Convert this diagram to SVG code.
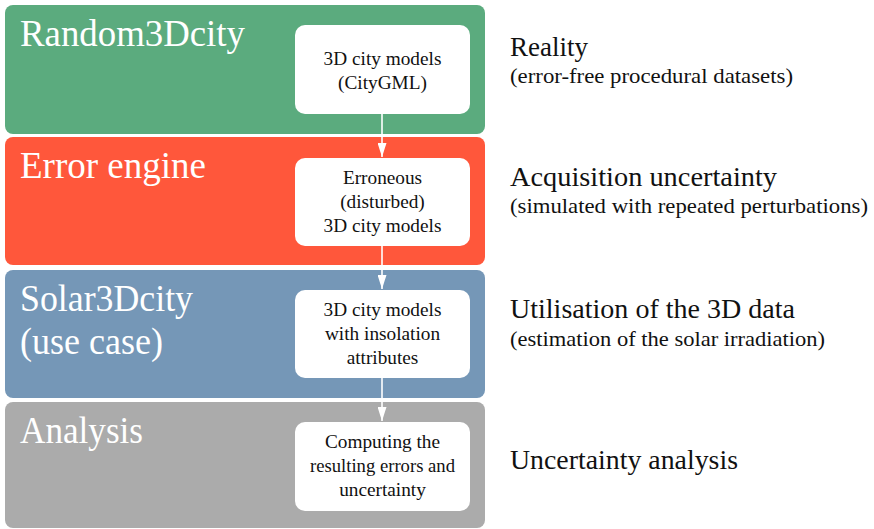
<svg xmlns="http://www.w3.org/2000/svg" width="874" height="529" viewBox="0 0 874 529">
<style>
.panel{stroke:none}
.box{fill:#ffffff}
.title{font-family:"Liberation Serif",serif;font-size:37px;fill:#ffffff}
.bt{font-family:"Liberation Serif",serif;font-size:19.3px;fill:#111111;text-anchor:middle}
.rh{font-family:"Liberation Serif",serif;font-size:27.5px;fill:#111111}
.rs{font-family:"Liberation Serif",serif;font-size:22px;fill:#111111}
.conn{stroke:#ffffff;stroke-width:1.6;fill:none;marker-end:url(#ah)}
</style>
<defs>
<marker id="ah" viewBox="0 0 14 9" refX="14" refY="4.5" markerWidth="14" markerHeight="9" markerUnits="userSpaceOnUse" orient="auto">
<path d="M0,0 L14,4.5 L0,9 z" fill="#ffffff"/>
</marker>
</defs>
<rect width="874" height="529" fill="#ffffff"/>
<g id="random3dcity">
<rect class="panel" x="5" y="5" width="480" height="129" rx="8" fill="#5BAB7E"/>
<text class="title" x="20" y="46" textLength="225" lengthAdjust="spacingAndGlyphs">Random3Dcity</text>
<rect class="box" x="295" y="25" width="175" height="89" rx="10"/>
<text class="bt" x="382.5" y="65">3D city models</text>
<text class="bt" x="382.5" y="89">(CityGML)</text>
</g>
<g id="error-engine">
<rect class="panel" x="5" y="137" width="480" height="128" rx="8" fill="#FF573B"/>
<text class="title" x="20" y="178" textLength="186" lengthAdjust="spacingAndGlyphs">Error engine</text>
<rect class="box" x="295" y="158" width="175" height="88" rx="10"/>
<text class="bt" x="382.5" y="184">Erroneous</text>
<text class="bt" x="382.5" y="208">(disturbed)</text>
<text class="bt" x="382.5" y="232">3D city models</text>
</g>
<g id="solar3dcity">
<rect class="panel" x="5" y="270" width="480" height="128" rx="8" fill="#7597B7"/>
<text class="title" x="20" y="311" textLength="173" lengthAdjust="spacingAndGlyphs">Solar3Dcity</text>
<text class="title" x="20" y="354" textLength="143" lengthAdjust="spacingAndGlyphs">(use case)</text>
<rect class="box" x="295" y="290" width="175" height="88" rx="10"/>
<text class="bt" x="382.5" y="316">3D city models</text>
<text class="bt" x="382.5" y="340">with insolation</text>
<text class="bt" x="382.5" y="364">attributes</text>
</g>
<g id="analysis">
<rect class="panel" x="5" y="402" width="480" height="126" rx="8" fill="#ABABAB"/>
<text class="title" x="20" y="443" textLength="123" lengthAdjust="spacingAndGlyphs">Analysis</text>
<rect class="box" x="295" y="422" width="175" height="89" rx="10"/>
<text class="bt" x="382.5" y="448">Computing the</text>
<text class="bt" x="382.5" y="472" textLength="145" lengthAdjust="spacingAndGlyphs">resulting errors and</text>
<text class="bt" x="382.5" y="496">uncertainty</text>
</g>
<g id="labels">
<text class="rh" x="510" y="56" textLength="78" lengthAdjust="spacingAndGlyphs">Reality</text>
<text class="rs" x="510" y="83" textLength="283" lengthAdjust="spacingAndGlyphs">(error-free procedural datasets)</text>
<text class="rh" x="510" y="186" textLength="267" lengthAdjust="spacingAndGlyphs">Acquisition uncertainty</text>
<text class="rs" x="510" y="213" textLength="358" lengthAdjust="spacingAndGlyphs">(simulated with repeated perturbations)</text>
<text class="rh" x="510" y="318" textLength="285" lengthAdjust="spacingAndGlyphs">Utilisation of the 3D data</text>
<text class="rs" x="510" y="346" textLength="315" lengthAdjust="spacingAndGlyphs">(estimation of the solar irradiation)</text>
<text class="rh" x="510" y="469" textLength="228" lengthAdjust="spacingAndGlyphs">Uncertainty analysis</text>
</g>
<g id="connectors">
<line class="conn" x1="382" y1="114" x2="382" y2="157"/>
<line class="conn" x1="382" y1="246" x2="382" y2="289"/>
<line class="conn" x1="382" y1="378" x2="382" y2="421"/>
</g>
</svg>
